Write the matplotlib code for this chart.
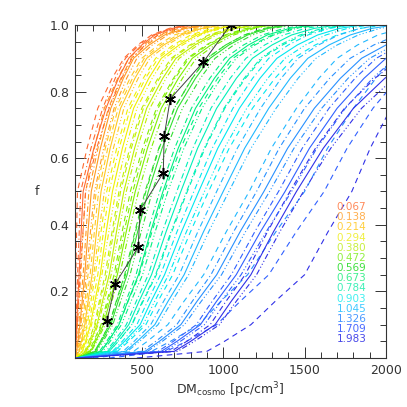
import numpy as np
import matplotlib
matplotlib.use('Agg')
import matplotlib.pyplot as plt
from matplotlib.ticker import MultipleLocator, FixedLocator

# redshifts shown in the legend and their colours
redshifts = ['0.067', '0.138', '0.214', '0.294', '0.380', '0.472', '0.569',
             '0.673', '0.784', '0.903', '1.045', '1.326', '1.709', '1.983']
colors = ['#ff6a30', '#ff9a20', '#ffc820', '#f0f000', '#c0f000', '#80f000', '#30e030',
          '#00f080', '#00f0b8', '#00e8f0', '#20b8ff', '#2890ff', '#3060ff', '#3030e8']
text_colors = ['#ff8a5a', '#ffb050', '#ffd040', '#f0f040', '#c8f040', '#90f040', '#40e040',
               '#40f090', '#40f0b8', '#40f0f0', '#40c8ff', '#4898ff', '#4868ff', '#4848e8']

# cumulative fraction levels at which the DM of each curve was read
f_levels = [0.0, 0.02, 0.05, 0.1, 0.17, 0.25, 0.38, 0.5, 0.63, 0.75, 0.84, 0.9, 0.94, 0.97, 0.99, 1.0]

dm_solid = [
    [90, 92, 95, 100, 107, 115, 128, 140, 206, 280, 357, 420, 500, 580, 690, 800],
    [90, 100, 108, 120, 134, 150, 170, 190, 246, 310, 387, 450, 545, 640, 770, 900],
    [90, 115, 129, 150, 170, 195, 222, 250, 306, 370, 458, 530, 635, 740, 870, 1000],
    [92, 135, 155, 185, 212, 245, 282, 320, 381, 450, 543, 620, 730, 840, 970, 1100],
    [95, 160, 186, 225, 259, 300, 345, 390, 456, 530, 629, 710, 825, 940, 1070, 1200],
    [100, 185, 217, 265, 303, 350, 405, 460, 535, 620, 725, 810, 925, 1040, 1170, 1300],
    [100, 215, 253, 310, 355, 410, 475, 540, 625, 720, 830, 920, 1035, 1150, 1275, 1400],
    [100, 250, 294, 360, 414, 480, 555, 630, 724, 830, 946, 1040, 1155, 1270, 1410, 1550],
    [100, 290, 342, 420, 483, 560, 650, 740, 843, 960, 1081, 1180, 1300, 1420, 1560, 1700],
    [100, 330, 394, 490, 557, 640, 745, 850, 967, 1100, 1226, 1330, 1455, 1580, 1715, 1850],
    [100, 400, 472, 580, 661, 760, 880, 1000, 1132, 1280, 1412, 1520, 1650, 1780, 1915, 2050],
    [100, 520, 608, 740, 839, 960, 1105, 1250, 1396, 1560, 1720, 1850, 2000, 2150, 2325, 2500],
    [100, 620, 716, 860, 959, 1080, 1230, 1380, 1530, 1700, 1865, 2000, 2150, 2300, 2500, 2700],
    [100, 700, 800, 950, 1049, 1170, 1310, 1450, 1615, 1800, 1993, 2150, 2325, 2500, 2750, 3000],
]
dm_dashed = [
    [85, 88, 89, 91, 93, 95, 100, 105, 164, 230, 318, 390, 475, 560, 670, 780],
    [88, 93, 98, 105, 114, 125, 140, 155, 209, 270, 352, 420, 510, 600, 730, 860],
    [90, 105, 117, 135, 151, 170, 195, 220, 276, 340, 428, 500, 600, 700, 830, 960],
    [90, 125, 141, 165, 188, 215, 250, 285, 346, 415, 509, 585, 693, 800, 930, 1060],
    [92, 150, 174, 210, 239, 275, 318, 360, 426, 500, 599, 680, 795, 910, 1040, 1170],
    [95, 175, 205, 250, 286, 330, 380, 430, 505, 590, 695, 780, 895, 1010, 1140, 1270],
    [100, 210, 246, 300, 343, 395, 458, 520, 605, 700, 810, 900, 1015, 1130, 1255, 1380],
    [100, 250, 294, 360, 416, 485, 563, 640, 739, 850, 966, 1060, 1180, 1300, 1440, 1580],
    [100, 300, 356, 440, 508, 590, 685, 780, 888, 1010, 1137, 1240, 1365, 1490, 1635, 1780],
    [100, 350, 420, 525, 599, 690, 800, 910, 1037, 1180, 1318, 1430, 1565, 1700, 1845, 1990],
    [150, 450, 534, 660, 759, 880, 1020, 1160, 1296, 1450, 1588, 1700, 1825, 1950, 2100, 2250],
    [200, 560, 676, 850, 985, 1150, 1325, 1500, 1641, 1800, 1938, 2050, 2175, 2300, 2450, 2600],
    [300, 650, 774, 960, 1104, 1280, 1450, 1620, 1761, 1920, 2074, 2200, 2325, 2450, 2625, 2800],
    [470, 900, 1008, 1170, 1319, 1500, 1645, 1790, 1903, 2030, 2179, 2300, 2425, 2550, 2725, 2900],
]
dm_dashdot = [
    [88, 90, 92, 96, 101, 106, 116, 125, 188, 260, 337, 400, 485, 570, 680, 790],
    [89, 96, 103, 113, 125, 140, 158, 175, 231, 295, 372, 435, 528, 620, 750, 880],
    [90, 110, 123, 142, 160, 183, 209, 235, 291, 355, 443, 515, 618, 720, 850, 980],
    [91, 130, 148, 175, 200, 230, 265, 300, 361, 430, 523, 600, 710, 820, 950, 1080],
    [93, 155, 179, 215, 246, 285, 327, 370, 436, 510, 609, 690, 805, 920, 1050, 1180],
    [97, 180, 210, 255, 293, 340, 392, 445, 518, 600, 704, 790, 905, 1020, 1150, 1280],
    [100, 210, 246, 300, 345, 400, 462, 525, 607, 700, 810, 900, 1015, 1130, 1255, 1380],
    [100, 240, 284, 350, 402, 465, 537, 610, 702, 805, 918, 1010, 1125, 1240, 1375, 1510],
    [100, 280, 330, 405, 466, 540, 627, 715, 814, 925, 1043, 1140, 1255, 1370, 1505, 1640],
    [100, 320, 380, 470, 535, 615, 717, 820, 933, 1060, 1181, 1280, 1400, 1520, 1655, 1790],
    [100, 385, 453, 555, 634, 730, 845, 960, 1087, 1230, 1356, 1460, 1585, 1710, 1840, 1970],
    [100, 500, 586, 715, 810, 925, 1065, 1205, 1344, 1500, 1654, 1780, 1925, 2070, 2235, 2400],
    [100, 600, 694, 835, 932, 1050, 1195, 1340, 1486, 1650, 1810, 1940, 2085, 2230, 2425, 2620],
    [100, 680, 776, 920, 1017, 1135, 1273, 1410, 1567, 1745, 1932, 2085, 2253, 2420, 2660, 2900],
]
dm_dashdotdot = [
    [90, 93, 97, 104, 112, 122, 139, 155, 223, 300, 377, 440, 520, 600, 710, 820],
    [90, 103, 112, 126, 141, 160, 185, 210, 266, 330, 407, 470, 565, 660, 790, 920],
    [90, 118, 134, 157, 179, 205, 238, 270, 326, 390, 478, 550, 655, 760, 890, 1020],
    [93, 140, 161, 192, 220, 255, 298, 340, 401, 470, 564, 640, 750, 860, 990, 1120],
    [96, 165, 192, 232, 268, 312, 359, 405, 473, 550, 649, 730, 845, 960, 1090, 1220],
    [100, 190, 224, 275, 316, 365, 423, 480, 558, 645, 750, 835, 950, 1065, 1193, 1320],
    [100, 222, 262, 322, 370, 428, 497, 565, 652, 750, 860, 950, 1065, 1180, 1305, 1430],
    [100, 260, 306, 375, 434, 505, 583, 660, 759, 870, 986, 1080, 1195, 1310, 1450, 1590],
    [100, 300, 355, 438, 504, 585, 680, 775, 883, 1005, 1129, 1230, 1350, 1470, 1610, 1750],
    [100, 342, 408, 508, 579, 665, 775, 885, 1007, 1145, 1274, 1380, 1505, 1630, 1765, 1900],
    [100, 412, 487, 600, 685, 788, 912, 1035, 1171, 1325, 1460, 1570, 1700, 1830, 1965, 2100],
    [100, 535, 626, 762, 865, 990, 1138, 1285, 1435, 1605, 1767, 1900, 2050, 2200, 2375, 2550],
    [100, 638, 737, 885, 986, 1110, 1265, 1420, 1575, 1750, 1918, 2055, 2208, 2360, 2560, 2760],
    [100, 720, 823, 978, 1080, 1205, 1349, 1493, 1661, 1850, 2048, 2210, 2390, 2570, 2825, 3080],
]

# observed sample (black asterisks)
dm_obs = [287, 336, 478, 490, 632, 638, 675, 878, 1045]
f_obs = [0.111, 0.222, 0.333, 0.444, 0.556, 0.667, 0.778, 0.889, 1.0]

fig = plt.figure(figsize=(4.07, 4.07), dpi=100)
ax = fig.add_axes([75 / 407, 49 / 407, 311 / 407, 333 / 407])

styles = [
    (dm_dashed, (0, (5, 4))),
    (dm_dashdot, (0, (5, 2.5, 1, 2.5))),
    (dm_dashdotdot, (0, (5, 2, 1, 2, 1, 2, 1, 2))),
    (dm_solid, '-'),
]
for data, ls in styles:
    for i in range(len(redshifts)):
        ax.plot(data[i], f_levels, color=colors[i], lw=0.8, ls=ls)

ax.plot(dm_obs, f_obs, color='#404040', lw=0.7)
ax.plot(dm_obs, f_obs, ls='none', marker=(6, 2, 0), ms=8, mew=1.1, color='black')

for i, z in enumerate(redshifts):
    ax.text(0.842, 0.453 - i * 0.0305, z, transform=ax.transAxes, color=text_colors[i],
            fontsize=7.5, ha='left', va='center')

ax.set_xlim(90, 2000)
ax.set_ylim(0, 1.0)
ax.xaxis.set_major_locator(FixedLocator([500, 1000, 1500, 2000]))
ax.xaxis.set_minor_locator(MultipleLocator(100))
ax.yaxis.set_major_locator(FixedLocator([0.2, 0.4, 0.6, 0.8, 1.0]))
ax.yaxis.set_minor_locator(MultipleLocator(0.05))
ax.yaxis.set_major_formatter(plt.FuncFormatter(lambda v, p: '%.1f' % v))
ax.tick_params(which='both', direction='in', top=True, right=True, colors='#333333',
               labelsize=9, width=0.7)
ax.tick_params(which='major', length=8, pad=4)
ax.tick_params(which='minor', length=4)
for s in ax.spines.values():
    s.set_linewidth(0.8)
    s.set_color('#333333')

fig.text(230 / 407, 1 - 390 / 407, r'DM$_{\rm cosmo}$ [pc/cm$^3$]', ha='center', va='center',
         fontsize=9, color='#333333')
fig.text(37 / 407, 1 - 191 / 407, 'f', ha='center', va='center', fontsize=9, color='#333333')

fig.savefig('out.png', dpi=100)
